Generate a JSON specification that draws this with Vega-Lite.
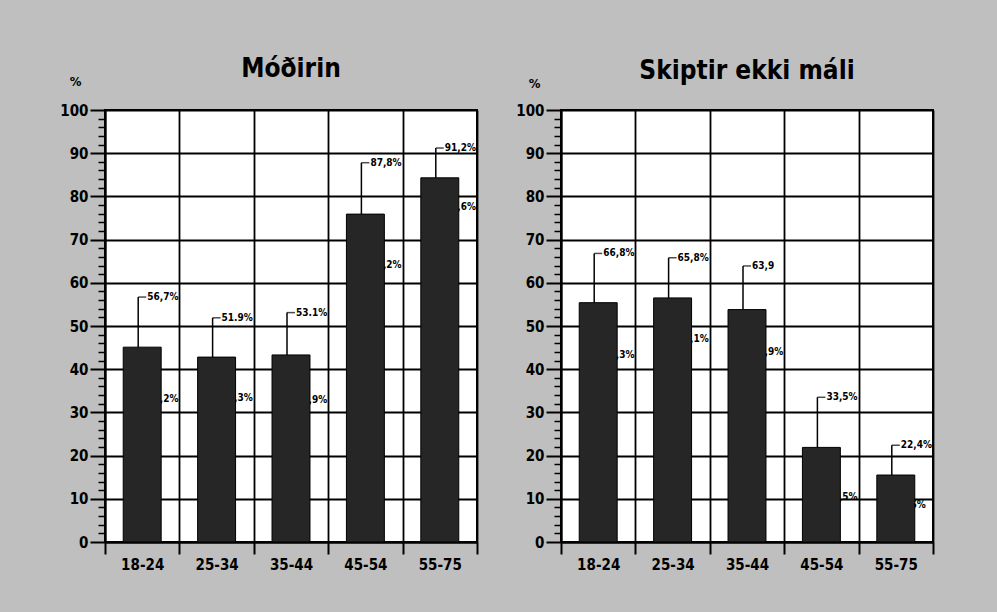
{
  "$schema": "https://vega.github.io/schema/vega-lite/v6.json",
  "background": "#bfbfbf",
  "padding": {"left": 58, "top": 55, "right": 62, "bottom": 42},
  "spacing": 35,
  "datasets": {
    "d": [
      {"panel": "Móðirin", "group": "18-24", "mean": 45.1, "low": 33.2, "high": 56.7, "lowLabel": "33,2%", "highLabel": "56,7%"},
      {"panel": "Móðirin", "group": "25-34", "mean": 42.8, "low": 33.3, "high": 51.9, "lowLabel": "33,3%", "highLabel": "51.9%"},
      {"panel": "Móðirin", "group": "35-44", "mean": 43.3, "low": 32.9, "high": 53.1, "lowLabel": "32,9%", "highLabel": "53.1%"},
      {"panel": "Móðirin", "group": "45-54", "mean": 75.9, "low": 64.2, "high": 87.8, "lowLabel": "64,2%", "highLabel": "87,8%"},
      {"panel": "Móðirin", "group": "55-75", "mean": 84.3, "low": 77.6, "high": 91.2, "lowLabel": "77,6%", "highLabel": "91,2%"},
      {"panel": "Skiptir ekki máli", "group": "18-24", "mean": 55.4, "low": 43.3, "high": 66.8, "lowLabel": "43,3%", "highLabel": "66,8%"},
      {"panel": "Skiptir ekki máli", "group": "25-34", "mean": 56.5, "low": 47.1, "high": 65.8, "lowLabel": "47,1%", "highLabel": "65,8%"},
      {"panel": "Skiptir ekki máli", "group": "35-44", "mean": 53.8, "low": 43.9, "high": 63.9, "lowLabel": "43,9%", "highLabel": "63,9"},
      {"panel": "Skiptir ekki máli", "group": "45-54", "mean": 21.9, "low": 10.5, "high": 33.5, "lowLabel": "10,5%", "highLabel": "33,5%"},
      {"panel": "Skiptir ekki máli", "group": "55-75", "mean": 15.5, "low": 8.6, "high": 22.4, "lowLabel": "8,6%", "highLabel": "22,4%"}
    ]
  },
  "hconcat": [
    {
      "width": 372, "height": 432,
      "title": {"text": "Móðirin"},
      "data": {"name": "d"},
      "transform": [{"filter": "datum.panel === 'Móðirin'"}],
      "resolve": {"axis": {"y": "independent"}},
      "encoding": {
        "x": {"field": "group", "type": "nominal", "sort": null, "scale": {"paddingInner": 0, "paddingOuter": 0},
              "axis": {"title": null, "tickBand": "extent", "grid": true, "gridColor": "black", "gridWidth": 1.8, "gridOpacity": 1, "tickSize": 12, "tickWidth": 2, "tickColor": "black", "domainColor": "black", "domainWidth": 2, "labelAngle": 0, "labelFontSize": 15, "labelFontWeight": "bold", "labelColor": "black", "labelPadding": 3}}
      },
      "layer": [
        {"mark": {"type": "text", "align": "left", "baseline": "middle", "dx": 5, "fontSize": 10, "fontWeight": "bold", "color": "black"},
         "encoding": {"y": {"field": "low", "type": "quantitative", "axis": null}, "text": {"field": "lowLabel"}}},
        {"mark": {"type": "bar", "width": {"band": 0.51}, "color": "#262626", "stroke": "black", "strokeWidth": 1},
         "encoding": {
           "y": {"field": "mean", "type": "quantitative", "scale": {"domain": [0, 100]},
                 "axis": {"orient": "left", "values": [0,10,20,30,40,50,60,70,80,90,100], "grid": true, "gridColor": "black", "gridWidth": 1.8, "gridOpacity": 1, "tickSize": 15, "tickWidth": 2, "tickColor": "black", "domainColor": "black", "domainWidth": 2, "labelFontSize": 15, "labelFontWeight": "bold", "labelColor": "black", "labelPadding": 2, "title": "%", "titleAngle": 0, "titleX": -30, "titleY": -22, "titleAlign": "center", "titleBaseline": "bottom", "titleFontSize": 13, "titleFontWeight": "bold", "titleColor": "black"}}
         }},
        {"mark": {"type": "rule", "xOffset": -4, "strokeWidth": 1.5, "color": "black"},
         "encoding": {"y": {"field": "mean", "type": "quantitative", "axis": {"orient": "left", "values": [2,4,6,8,12,14,16,18,22,24,26,28,32,34,36,38,42,44,46,48,52,54,56,58,62,64,66,68,72,74,76,78,82,84,86,88,92,94,96,98], "labels": false, "domain": false, "grid": false, "tickSize": 7, "tickWidth": 1.5, "tickColor": "black", "title": null}},
                      "y2": {"field": "high"}}},
        {"mark": {"type": "tick", "orient": "horizontal", "size": 8, "thickness": 1.5, "color": "black"},
         "encoding": {"y": {"field": "high", "type": "quantitative", "axis": null}}},
        {"mark": {"type": "text", "align": "left", "baseline": "middle", "dx": 5, "fontSize": 10, "fontWeight": "bold", "color": "black"},
         "encoding": {"y": {"field": "high", "type": "quantitative", "axis": null}, "text": {"field": "highLabel"}}}
      ]
    },
    {
      "width": 372, "height": 432,
      "title": {"text": "Skiptir ekki máli"},
      "data": {"name": "d"},
      "transform": [{"filter": "datum.panel === 'Skiptir ekki máli'"}],
      "resolve": {"axis": {"y": "independent"}},
      "encoding": {
        "x": {"field": "group", "type": "nominal", "sort": null, "scale": {"paddingInner": 0, "paddingOuter": 0},
              "axis": {"title": null, "tickBand": "extent", "grid": true, "gridColor": "black", "gridWidth": 1.8, "gridOpacity": 1, "tickSize": 12, "tickWidth": 2, "tickColor": "black", "domainColor": "black", "domainWidth": 2, "labelAngle": 0, "labelFontSize": 15, "labelFontWeight": "bold", "labelColor": "black", "labelPadding": 3}}
      },
      "layer": [
        {"mark": {"type": "text", "align": "left", "baseline": "middle", "dx": 5, "fontSize": 10, "fontWeight": "bold", "color": "black"},
         "encoding": {"y": {"field": "low", "type": "quantitative", "axis": null}, "text": {"field": "lowLabel"}}},
        {"mark": {"type": "bar", "width": {"band": 0.51}, "color": "#262626", "stroke": "black", "strokeWidth": 1},
         "encoding": {
           "y": {"field": "mean", "type": "quantitative", "scale": {"domain": [0, 100]},
                 "axis": {"orient": "left", "values": [0,10,20,30,40,50,60,70,80,90,100], "grid": true, "gridColor": "black", "gridWidth": 1.8, "gridOpacity": 1, "tickSize": 15, "tickWidth": 2, "tickColor": "black", "domainColor": "black", "domainWidth": 2, "labelFontSize": 15, "labelFontWeight": "bold", "labelColor": "black", "labelPadding": 2, "title": "%", "titleAngle": 0, "titleX": -27, "titleY": -20, "titleAlign": "center", "titleBaseline": "bottom", "titleFontSize": 13, "titleFontWeight": "bold", "titleColor": "black"}}
         }},
        {"mark": {"type": "rule", "xOffset": -4, "strokeWidth": 1.5, "color": "black"},
         "encoding": {"y": {"field": "mean", "type": "quantitative", "axis": {"orient": "left", "values": [2,4,6,8,12,14,16,18,22,24,26,28,32,34,36,38,42,44,46,48,52,54,56,58,62,64,66,68,72,74,76,78,82,84,86,88,92,94,96,98], "labels": false, "domain": false, "grid": false, "tickSize": 7, "tickWidth": 1.5, "tickColor": "black", "title": null}},
                      "y2": {"field": "high"}}},
        {"mark": {"type": "tick", "orient": "horizontal", "size": 8, "thickness": 1.5, "color": "black"},
         "encoding": {"y": {"field": "high", "type": "quantitative", "axis": null}}},
        {"mark": {"type": "text", "align": "left", "baseline": "middle", "dx": 5, "fontSize": 10, "fontWeight": "bold", "color": "black"},
         "encoding": {"y": {"field": "high", "type": "quantitative", "axis": null}, "text": {"field": "highLabel"}}}
      ]
    }
  ],
  "config": {
    "font": "DejaVu Sans Condensed",
    "view": {"stroke": "black", "strokeWidth": 2, "fill": "white"},
    "title": {"fontSize": 26, "fontWeight": "bold", "color": "black", "anchor": "middle", "frame": "group", "baseline": "alphabetic", "offset": -7}
  }
}
